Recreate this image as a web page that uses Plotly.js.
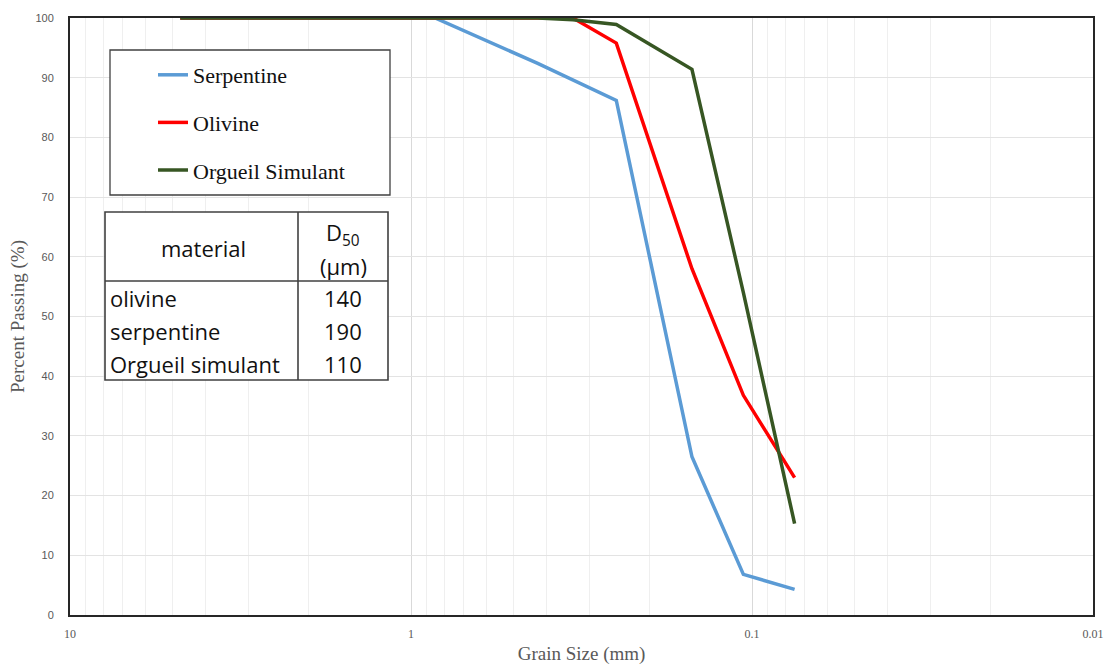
<!DOCTYPE html>
<html>
<head>
<meta charset="utf-8">
<script src="https://cdn.plot.ly/plotly-3.0.1.min.js"></script>
<style>html,body{margin:0;padding:0;background:#fff;}#chart{width:1106px;height:665px;}</style>
</head>
<body>
<div id="chart"></div>
<script>
// Grain sizes (mm) of sieves
const sizes = [4.75, 2.0, 0.85, 0.425, 0.335, 0.25, 0.15, 0.106, 0.075];
// Percent passing
const serpentine = [100, 100, 100, 92.4, 89.6, 86.2, 26.5, 6.8, 4.3];
const olivine    = [100, 100, 100, 100, 100, 95.8, 58.0, 36.8, 23.0];
const orgueil    = [100, 100, 100, 100, 99.7, 98.9, 91.4, 54.0, 15.3];
const seriesNames = ["Serpentine", "Olivine", "Orgueil Simulant"];
const seriesColors = ["#5b9bd5", "#ff0000", "#375623"];

// D50 table
const tableHeader = ["material", "D<sub>50</sub>", "(μm)"];
const tableMaterials = ["olivine", "serpentine", "Orgueil simulant"];
const tableD50 = ["140", "190", "110"];

// Pixel -> paper helpers for decorations (plot area 70..1093 x 18..615)
const L = 70, R = 1093, T = 18, B = 615;
const px = v => (v - L) / (R - L);
const py = v => (B - v) / (B - T);

const allY = [serpentine, olivine, orgueil];
const traces = allY.map((ys, i) => ({
  x: sizes, y: ys, type: 'scatter', mode: 'lines',
  name: seriesNames[i], legendgroup: 'g' + i,
  line: {color: seriesColors[i], width: 3.5}
}));

const shapes = [];
const annotations = [];
const lineColor = '#404040';
function rect(x0, y0, x1, y1, w) {
  shapes.push({type: 'rect', xref: 'paper', yref: 'paper',
    x0: px(x0), x1: px(x1), y0: py(y0), y1: py(y1),
    line: {color: lineColor, width: w}, fillcolor: '#ffffff', layer: 'above'});
}
function seg(x0, y0, x1, y1, w) {
  shapes.push({type: 'line', xref: 'paper', yref: 'paper',
    x0: px(x0), x1: px(x1), y0: py(y0), y1: py(y1),
    line: {color: lineColor, width: w}, layer: 'above'});
}
// legend box
rect(110, 50, 390, 195, 1.3);
// table
rect(105, 212, 388, 380, 1.6);
seg(298, 212, 298, 380, 1.6);
seg(105, 281, 388, 281, 1.6);

const tFont = {family: 'Open Sans, sans-serif', size: 22, color: '#111'};
function txt(x, y, s, anchor, font) {
  annotations.push({xref: 'paper', yref: 'paper', x: px(x), y: py(y), text: s,
    showarrow: false, xanchor: anchor, yanchor: 'middle', font: font || tFont});
}
txt(203, 248, tableHeader[0], 'center');
txt(343, 234, tableHeader[1], 'center');
txt(343, 266, tableHeader[2], 'center');
const rowY = [298, 331, 364];
tableMaterials.forEach((m, i) => {
  txt(108, rowY[i], m, 'left');
  txt(343, rowY[i], tableD50[i], 'center');
});

const layout = {
  width: 1106, height: 665,
  margin: {l: L, r: 1106 - R, t: T, b: 665 - B},
  paper_bgcolor: '#ffffff', plot_bgcolor: '#ffffff',
  showlegend: true,
  legend: {x: px(153), y: py(54), xanchor: 'left', yanchor: 'top',
    bgcolor: 'rgba(0,0,0,0)', borderwidth: 0, tracegroupgap: 16,
    font: {family: 'Liberation Serif, serif', size: 22, color: '#111'}},
  xaxis: {
    type: 'log', range: [1, -2], autorange: false,
    tickvals: [10, 1, 0.1, 0.01], ticktext: ['10', '1', '0.1', '0.01'],
    ticks: '', ticklabelstandoff: 7,
    tickfont: {family: 'Liberation Serif, serif', size: 12, color: '#595959'},
    showgrid: true, gridcolor: '#d9d9d9', gridwidth: 1,
    minor: {dtick: 'D1', showgrid: true, gridcolor: '#efefef', gridwidth: 1, ticks: ''},
    showline: true, linecolor: '#262626', linewidth: 2, mirror: true,
    zeroline: false,
    title: {text: 'Grain Size (mm)', standoff: 10,
      font: {family: 'Liberation Serif, serif', size: 19, color: '#595959'}}
  },
  yaxis: {
    range: [0, 100], autorange: false, dtick: 10,
    ticks: '', ticklabelstandoff: 12,
    tickfont: {family: 'Liberation Sans, Arial, sans-serif', size: 11, color: '#595959'},
    showgrid: true, gridcolor: '#e3e3e3', gridwidth: 1,
    showline: true, linecolor: '#262626', linewidth: 2, mirror: true,
    zeroline: false,
    title: {text: 'Percent Passing (%)', standoff: 6,
      font: {family: 'Liberation Serif, serif', size: 19, color: '#595959'}}
  },
  shapes: shapes,
  annotations: annotations
};

Plotly.newPlot('chart', traces, layout, {displayModeBar: false, staticPlot: true});
</script>
</body>
</html>
